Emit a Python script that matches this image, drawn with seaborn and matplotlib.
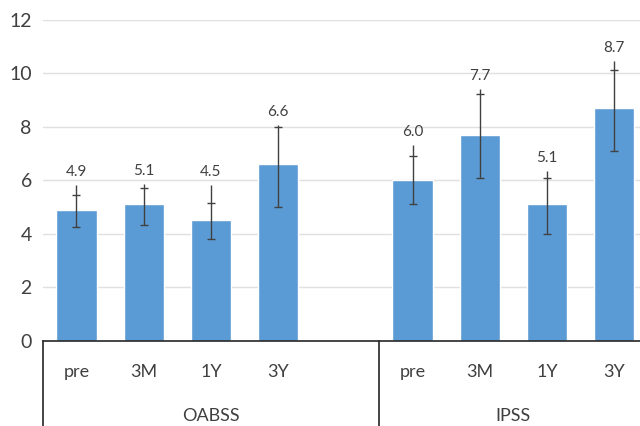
import numpy as np
import pandas as pd
import seaborn as sns
import matplotlib.pyplot as plt
import matplotlib.transforms as mtransforms

# data
groups = ['OABSS', 'OABSS', 'OABSS', 'OABSS', 'IPSS', 'IPSS', 'IPSS', 'IPSS']
times = ['pre', '3M', '1Y', '3Y', 'pre', '3M', '1Y', '3Y']
means = [4.9, 5.1, 4.5, 6.6, 6.0, 7.7, 5.1, 8.7]
err_low = [4.27, 4.33, 3.79, 5.01, 5.11, 6.07, 3.99, 7.10]
err_cap = [5.45, 5.73, 5.16, 8.00, 6.90, 9.24, 6.09, 10.14]
err_top = [5.82, 5.88, 5.82, 8.06, 7.31, 9.43, 6.35, 10.46]
y_ticks = [0, 2, 4, 6, 8, 10, 12]


def main():
    sns.set_style('white')
    plt.rcParams['font.family'] = ['Lato', 'DejaVu Sans']

    df = pd.DataFrame({'group': groups, 'time': times, 'mean': means})
    df['key'] = df['group'] + ' ' + df['time']
    order = list(df['key'][:4]) + ['gap'] + list(df['key'][4:])

    fig = plt.figure(figsize=(6.4, 4.26), dpi=100)
    ax = fig.add_axes([0.067, 0.2, 0.94, 0.7535])

    sns.barplot(data=df, x='key', y='mean', order=order, color='#5B9BD5',
                saturation=1, width=0.6, errorbar=None, ax=ax, zorder=2)

    pos = [order.index(k) for k in df['key']]
    m = np.array(means)
    ax.errorbar(pos, m, yerr=[m - np.array(err_low), np.array(err_cap) - m],
                fmt='none', ecolor='#404040', elinewidth=1, capsize=3,
                capthick=1, zorder=3)
    ax.vlines(pos, err_cap, err_top, color='#404040', lw=1, zorder=3)
    for x, top, v in zip(pos, err_top, means):
        ax.text(x, top + 0.22, f'{v:.1f}', ha='center', va='bottom',
                fontsize=11, color='#404040')

    ax.set_ylim(0, 12)
    ax.set_xlim(-0.5, 8.45)
    ax.set_yticks(y_ticks)
    ax.set_yticklabels([str(t) for t in y_ticks], fontsize=14, color='#404040')
    ax.tick_params(axis='y', length=0, pad=8)
    ax.yaxis.grid(True, color='#E0E0E0', lw=1)
    ax.set_axisbelow(True)
    for s in ['left', 'right', 'top']:
        ax.spines[s].set_visible(False)
    ax.spines['bottom'].set_color('#262626')
    ax.spines['bottom'].set_linewidth(1.2)

    ax.set_xticks(range(len(order)))
    ax.set_xticklabels(['' if k == 'gap' else k.split(' ')[1] for k in order],
                       fontsize=13, color='#404040')
    ax.tick_params(axis='x', length=0, pad=17)
    ax.set_xlabel('')
    ax.set_ylabel('')

    # category group separators and labels
    trans = mtransforms.blended_transform_factory(ax.transData, ax.transAxes)
    for xb in [-0.5, 4.5, 8.5]:
        ax.plot([xb, xb], [0, -0.3], color='#262626', lw=1.2,
                transform=trans, clip_on=False)
    ax.text(2.0, -0.235, 'OABSS', transform=trans, ha='center', va='center',
            fontsize=13, color='#404040')
    ax.text(6.5, -0.235, 'IPSS', transform=trans, ha='center', va='center',
            fontsize=13, color='#404040')

    plt.savefig('out.png', dpi=100)


if __name__ == '__main__':
    main()
